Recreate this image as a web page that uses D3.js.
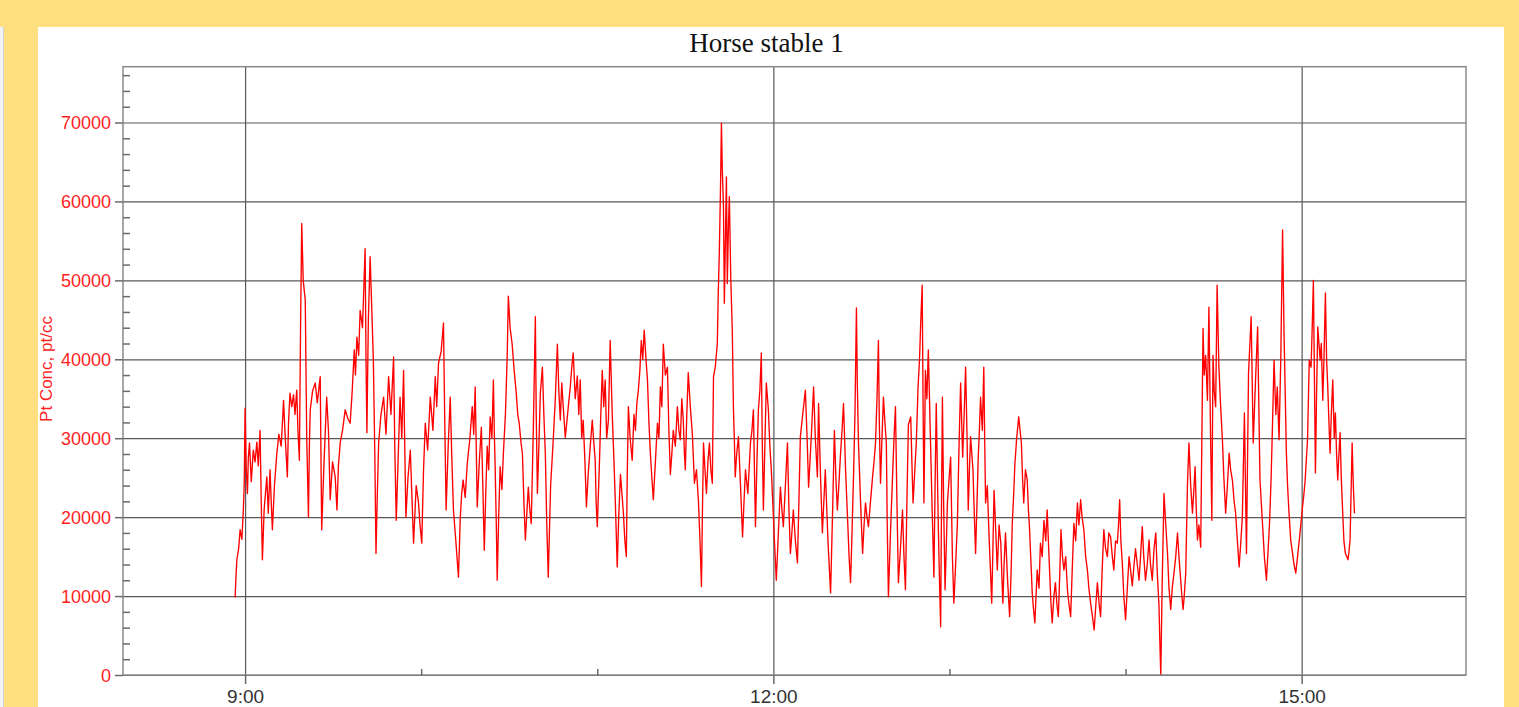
<!DOCTYPE html>
<html lang="en">
<head>
<meta charset="UTF-8">
<title>Horse stable 1</title>
<style>
  body { margin: 0; background: #ffdf80; }
  svg { display: block; }
</style>
<script src="https://d3js.org/d3.v7.min.js"></script>
</head>
<body>
<svg width="1519" height="707"></svg>
<script>
// samples: [minutes after 9:00, concentration in 1000 pt/cc]
const trace0856 = [[-3.4,9.8],[-3.1,12.5],[-2.8,14.6],[-2.2,16],[-1.7,18.4],[-1.1,17.2],[-0.6,20.9],[-0.3,24],[0,33.8],[0.4,26],[0.8,23],[1.1,27.5],[1.5,29.4],[2.1,24.5],[2.8,28.5],[3.4,27],[4,29.5],[4.5,26.5],[5.1,31],[5.5,22],[5.9,14.6],[6.5,21],[7.4,25.1],[7.9,20.5],[8.5,26],[8.9,22],[9.3,18.4],[10,24],[10.8,28],[11.5,30.5],[12.3,29],[12.8,32.5],[13.1,34.8],[13.7,30],[14.4,25.1],[14.8,32],[15.3,35.7],[15.9,34],[16.5,35.5],[17,33],[17.6,36.1],[18,31],[18.5,27.2],[18.9,44],[19.3,57.2],[19.8,50],[20.5,47.5],[21,30],[21.6,20],[21.9,29],[22.2,33.6],[23,36],[23.9,37],[24.6,34.5],[25.2,36.5],[25.6,37.8],[26.1,18.4],[26.9,27],[27.8,35.2],[28.4,31],[29,22.2],[29.8,27],[30.7,25.1],[31.3,20.9],[31.8,26.5],[32.4,29.4],[33.2,31],[34.1,33.6],[35,32.5],[35.8,31.9],[36.5,36],[37.2,41.2],[37.6,38],[38.1,42.8],[38.7,40.5],[39.2,46.2],[40,44],[40.9,54],[41.2,40],[41.5,30.7],[42,45],[42.6,53],[43.2,46],[43.7,39.9],[44.2,28],[44.6,15.4],[45,22],[45.5,29.4],[46.3,33],[47.2,35.2],[48,30.5],[48.9,37.8],[49.7,33],[50.6,40.3],[51,29],[51.5,19.6],[52.2,28],[52.8,35.2],[53.4,30],[54,38.6],[54.4,29],[54.8,20],[55.5,25],[56.3,28.5],[56.9,22],[57.4,16.7],[58.3,24],[59.1,21.8],[59.6,19],[60.2,16.7],[60.8,26],[61.4,31.9],[62.2,28.5],[63.1,35.2],[64,31],[64.8,37.8],[65.3,34],[65.9,39.5],[66.8,41],[67.6,44.6],[68,33],[68.5,20.9],[69.2,29],[69.9,35.2],[70.4,28],[71,20.9],[71.8,17],[72.7,12.4]];

const trace1013 = [[73.3,19.7],[73.8,23],[74.3,24.7],[75,22.5],[75.7,26.8],[76.6,30],[77.4,34],[77.9,30.5],[78.4,36.5],[78.8,28],[79.1,21.3],[79.8,27],[80.5,31.4],[81,24],[81.5,15.8],[82,23],[82.5,29],[83,26],[83.5,32.7],[84.1,30],[84.6,37.4],[84.9,31],[85.2,26.4],[85.6,19],[85.9,12],[86.4,20],[86.9,26.4],[87.5,23.5],[88,28],[88.7,33],[89.3,40.3],[89.7,48],[90.3,44],[91,41.9],[91.7,38.5],[92.4,35.7],[92.9,33],[93.4,31.9],[94,29.5],[94.5,28],[95,22],[95.5,17.1],[96,20.5],[96.5,23.8],[97,21],[97.5,19.2],[98.2,31],[98.9,45.4],[99.2,33],[99.6,23],[100.1,29],[100.6,35.7],[101.3,39],[101.8,33],[102.3,28],[102.8,19],[103.3,12.4],[104.1,24],[105,29.8],[105.7,35],[106.4,41.9],[106.9,36],[107.4,32.3],[107.9,37],[108.4,34],[109.1,30.1],[110,33.5],[110.8,36.5],[111.3,39],[111.8,40.8],[112.5,35],[113.2,37.9],[113.7,33],[114.2,37.4],[114.7,30],[115.2,32.3],[115.8,27],[116.3,21.3],[116.9,25.4],[117.6,29],[118.3,32.3],[118.8,29.5],[119.3,27.2],[119.6,22],[120,18.8],[120.7,26.4],[121.2,33],[121.7,38.6],[122.2,34],[122.7,37.4],[123.2,30],[123.8,32.3],[124.4,42.4],[124.8,37],[125.1,33],[125.7,27],[126.2,21.3],[126.8,13.7],[127.3,20],[127.9,25.4],[128.4,23],[128.9,20.5],[129.4,17],[129.9,15],[130.2,25],[130.6,34],[131.2,30],[131.9,27.2],[132.5,33],[133,31],[133.5,34.5],[134,36.1],[134.5,38.5],[135,42.4],[135.5,40],[136,43.7],[136.6,40],[137.1,37.4],[137.6,32],[138.1,28],[138.6,25],[139.1,22.2],[139.8,27],[140.5,31.9],[141,30],[141.5,36.5],[142,34],[142.5,41.9],[143.2,38],[143.9,39],[144.4,31],[144.9,25.4],[145.4,28],[145.9,31],[146.6,29],[147.3,34],[147.8,31],[148.3,29.8],[148.8,35],[149.3,32.3]];

const trace1130 = [[149.7,28],[150,26],[150.5,33],[151,38.3],[151.7,34],[152.4,30.5],[152.8,27],[153.1,24.3],[153.8,26],[154.5,21.8],[155,17],[155.5,11.2],[155.8,20],[156.2,29.4],[156.7,26],[157.2,23],[157.7,27],[158.2,29.4],[158.7,26],[159.2,24.3],[159.6,37.8],[160.2,39],[160.9,42],[161.2,48],[161.6,53.8],[162,62],[162.3,69.9],[162.6,64],[163,59.3],[163.3,47.1],[163.7,56],[164,63.1],[164.3,49.6],[164.7,57],[165,60.6],[165.5,50],[166,43.7],[166.4,33.6],[166.7,30],[167,25.1],[167.5,28],[168.1,30.2],[168.8,24],[169.5,17.5],[170,22],[170.5,26],[171.3,23],[172.2,29.4],[172.7,31],[173.2,33.6],[173.6,25],[173.9,18.8],[174.4,27],[174.9,33.6],[175.4,36],[175.9,40.8],[176.2,30],[176.6,20.9],[177.1,29],[177.6,37],[178.3,33.6],[178.8,29],[179.3,26],[179.9,21],[180.4,16.7],[181,12],[181.7,18],[182.4,23.8],[182.9,21],[183.4,18.8],[184.1,24],[184.8,29.4],[185.3,21],[185.8,15.4],[186.3,18],[186.8,20.9],[187.5,17],[188.2,14.2],[188.7,22],[189.2,30.2],[190,33],[190.9,36.1],[191.5,30],[192,23.8],[192.9,30],[193.7,36.5],[194.3,30],[195,25.1],[195.4,34.4],[196,26],[196.7,18],[197.2,22],[197.7,26],[198.6,17],[199.5,10.4],[200.2,21],[200.8,31],[201.3,25],[201.8,20.9],[202.3,24],[202.9,28.1],[203.4,31],[203.9,34.4],[204.6,26],[205.3,19.6],[205.8,15],[206.3,11.7],[206.8,18],[207.3,25.1],[207.8,33],[208.3,46.5],[208.6,37],[209,29.4],[209.7,22],[210.4,15.4],[210.9,19],[211.4,21.8],[211.9,20],[212.4,18.8],[213.1,22],[213.8,25.1],[214.3,27],[214.8,29.4],[215.3,35],[215.8,42.4],[216.1,32],[216.5,24.3],[217,30],[217.5,35.2],[218,32],[218.5,29.4],[218.8,19],[219.2,9.9],[219.9,18],[220.6,25.1],[221.1,30],[221.6,34],[222.1,22],[222.6,11.7],[223.3,16],[224,20.9],[224.5,15],[225,10.8],[225.5,22],[226,31.7]];

const trace1346 = [[226.8,32.7],[227.2,27],[227.6,21.8],[228.2,26],[228.7,29.4],[229.3,36.5],[229.8,40],[230.2,44.6],[230.7,49.4],[231,35],[231.3,21.8],[231.8,38.6],[232.3,35],[232.8,41.2],[233.5,30.2],[234.1,21],[234.7,12.4],[235.1,24],[235.5,34.4],[236.2,18.8],[236.6,12],[237,6.1],[237.3,22],[237.6,35.2],[238,22],[238.5,10.8],[238.9,16],[239.3,21.8],[239.9,25],[240.4,27.6],[241,15],[241.5,9.1],[242.1,14],[242.7,19.2],[243.2,28],[243.8,37],[244.5,27.6],[245,33],[245.5,39],[246,30],[246.4,20.9],[246.8,26],[247.2,30.2],[248,26],[248.5,20],[248.9,15.4],[249.4,22],[249.8,27.6],[250.2,31],[250.6,35.2],[251.2,31],[251.7,39],[252,30],[252.3,21.8],[252.9,24],[253.5,17.5],[254,13],[254.4,9.1],[254.8,16],[255.2,23.4],[255.8,18],[256.3,13.3],[256.9,19],[257.5,16.7],[257.9,12],[258.2,9.1],[258.6,14],[259.1,18],[259.8,12],[260.5,7.4],[261,13],[261.4,19.2],[261.9,23],[262.3,26.8],[262.9,30],[263.6,32.7],[264.5,29.4],[264.9,25],[265.3,21.8],[265.9,26],[266.5,24.7],[266.9,21],[267.3,18.4],[267.8,14],[268.2,10.4],[268.6,8.5],[269.1,6.6],[269.5,10],[269.9,13.3],[270.5,11],[271,16.7],[271.6,15],[272.2,19.6],[272.8,17],[273.3,20.9],[273.7,17],[274.1,13.3],[274.6,9],[275,6.6],[275.6,10],[276.1,11.7],[276.6,9],[277.1,7.4],[277.6,13],[278,18.4],[278.5,15],[279,13.3],[279.6,15],[280.2,10.8],[280.7,9],[281.3,7.4],[281.8,13],[282.4,19.2],[283,17],[283.6,21.8],[284.1,19],[284.7,22.2],[285.2,20],[285.8,18.4],[286.4,15],[287,13.3],[287.5,11],[288.1,9.1],[288.7,7.5],[289.3,5.7],[289.9,9],[290.4,11.7],[291,9],[291.5,7.4],[292,13],[292.6,18.4],[293.2,16],[293.8,15],[294.3,18],[294.9,17.5],[295.5,15],[296,13.3],[296.6,17],[297.2,16.7],[297.6,19],[298,22.2],[298.4,17],[298.9,14.2],[299.4,10],[300,7],[300.6,11],[301.2,15],[301.8,13],[302.3,11.3],[302.9,14],[303.4,16]];

const trace1404 = [[304,14],[304.6,12],[305.1,15],[305.7,18.8],[306.2,15],[306.8,12],[307.4,14],[308,17.1],[308.5,14],[309.1,12],[309.7,16],[310.3,18],[310.8,13],[311.4,8.7],[311.7,4],[312,0],[312.5,12],[313.1,23],[313.7,19],[314.3,15.4],[314.8,11],[315.4,8.3],[315.9,11],[316.5,12.9],[317.1,15],[317.7,18],[318.2,15],[318.8,12],[319.2,10],[319.6,8.3],[320,10],[320.5,12.9],[321.1,24.3],[321.6,29.4],[322.2,24],[322.8,20.5],[323.2,23],[323.7,26.4],[324.1,21],[324.5,17.1],[325,19],[325.6,16.2],[326,30],[326.4,43.9],[326.8,38],[327.3,40.5],[327.9,34.8],[328.4,46.6],[328.9,32],[329.4,19.6],[329.8,40.5],[330.2,36],[330.7,34],[331.2,49.4],[331.8,39],[332.4,34],[333,29.8],[333.5,25],[334.1,20.5],[334.7,24],[335.3,28.1],[335.8,26],[336.4,24.7],[337,22],[337.5,20.5],[338.1,17],[338.7,13.7],[339.3,17],[339.8,20.1],[340.5,33.2],[341.2,15.4],[341.9,38.3],[342.8,45.4],[343.5,29.4],[344.2,36.5],[345,44.1],[345.8,24.7],[346.6,19.6],[347.3,15],[348,12],[348.6,16],[349.1,19.6],[349.6,25],[350,30.7],[350.6,39.9],[351.2,33],[351.7,36.5],[352.3,29.8],[352.9,40.3],[353.5,56.4],[354,43.3],[354.8,28.1],[355.2,24],[355.7,20.5],[356.3,17],[356.9,15.4],[357.4,14],[358,12.9],[358.6,15],[359.2,17.1],[359.7,19],[360.3,21.3],[360.8,23],[361.2,24.7],[362,29.8],[362.6,39.9],[363.2,39],[363.6,44],[364,50],[364.7,25.6],[365.1,36],[365.5,44.1],[366.3,39.9],[366.7,42],[367.2,34.8],[367.6,40],[368.1,48.4],[368.5,40],[368.9,36.5],[369.3,32],[369.7,28.1],[370.1,33],[370.6,37.4],[371.1,30],[371.5,33.2],[371.9,28],[372.3,24.7],[372.7,28],[373.1,30.7],[373.5,25],[374,20.5],[374.4,17],[374.9,15.4],[375.4,15],[375.8,14.6],[376.1,15.5],[376.5,17.1],[377.2,29.4],[377.6,24],[378,20.5]];

const samples = trace0856.concat(trace1013, trace1130, trace1346, trace1404);

const yMajor = [0, 10, 20, 30, 40, 50, 60, 70];     // thousand pt/cc
const xMajor = [0, 180, 360];                      // 9:00, 12:00, 15:00
const xMinor = [60, 120, 240, 300];                // 10, 11, 13, 14 o'clock
const chartTitle = "Horse stable 1";
const yTitle = "Pt Conc, pt/cc";

const svg = d3.select("svg");
const W = 1519, H = 707;
const pLeft = 123, pRight = 1466, pTop = 66.7, pBottom = 675;

svg.append("rect").attr("width", W).attr("height", H).attr("fill", "#ffdf80");
svg.append("rect").attr("x", 0).attr("y", 27).attr("width", 3).attr("height", H - 27).attr("fill", "#f3f3f3");
svg.append("line").attr("x1", 3.5).attr("x2", 3.5).attr("y1", 27).attr("y2", H).attr("stroke", "#d2d2d2");
svg.append("rect").attr("x", 38).attr("y", 27).attr("width", 1466).attr("height", H - 27).attr("fill", "#fff");

const x = d3.scaleLinear().domain([-41.6, 416]).range([pLeft, pRight]);
const y = d3.scaleLinear().domain([0, 77.07]).range([pBottom, pTop]);

const hm = m => `${Math.floor(9 + m / 60)}:${String(m % 60).padStart(2, "0")}`;

// grid
svg.append("g")
  .attr("transform", `translate(${pLeft},0)`)
  .call(d3.axisLeft(y).tickValues(yMajor).tickSize(-(pRight - pLeft)).tickFormat(""))
  .call(g => g.select(".domain").remove())
  .call(g => g.selectAll("line").attr("stroke", "#585858").attr("stroke-width", 1.2));

svg.append("g")
  .attr("transform", `translate(0,${pBottom})`)
  .call(d3.axisBottom(x).tickValues(xMajor).tickSize(-(pBottom - pTop)).tickFormat(""))
  .call(g => g.select(".domain").remove())
  .call(g => g.selectAll("line").attr("stroke", "#585858").attr("stroke-width", 1.2));

// trace
svg.append("path")
  .datum(samples)
  .attr("fill", "none")
  .attr("stroke", "#ff0000")
  .attr("stroke-width", 1.35)
  .attr("stroke-linejoin", "round")
  .attr("d", d3.line().x(d => x(d[0])).y(d => y(d[1])));

// frame
svg.append("rect")
  .attr("x", pLeft).attr("y", pTop)
  .attr("width", pRight - pLeft).attr("height", pBottom - pTop)
  .attr("fill", "none").attr("stroke", "#8a8a8a").attr("stroke-width", 1.5);

// y axis: major ticks out, minor ticks in
svg.append("g")
  .attr("transform", `translate(${pLeft},0)`)
  .call(d3.axisLeft(y).tickValues(yMajor).tickSize(8).tickPadding(4).tickFormat(d => d * 1000))
  .call(g => g.select(".domain").remove())
  .call(g => g.selectAll("line").attr("stroke", "#6a6a6a").attr("stroke-width", 1.5))
  .call(g => g.selectAll("text").attr("fill", "#ff1f1f").attr("dy", "0.34em")
    .style("font", "18px 'Liberation Sans', Arial, sans-serif"));

svg.append("g")
  .attr("transform", `translate(${pLeft},0)`)
  .call(d3.axisRight(y).tickValues(d3.range(2, 77, 2).filter(v => v % 10)).tickSize(7).tickFormat(""))
  .call(g => g.select(".domain").remove())
  .call(g => g.selectAll("line").attr("stroke", "#6a6a6a").attr("stroke-width", 1.5));

// x axis
svg.append("g")
  .attr("transform", `translate(0,${pBottom})`)
  .call(d3.axisBottom(x).tickValues(xMajor).tickSize(9).tickPadding(6).tickFormat(hm))
  .call(g => g.select(".domain").remove())
  .call(g => g.selectAll("line").attr("stroke", "#6a6a6a").attr("stroke-width", 1.5))
  .call(g => g.selectAll("text").attr("fill", "#333")
    .style("font", "19px 'Liberation Sans', Arial, sans-serif"));

svg.append("g")
  .attr("transform", `translate(0,${pBottom})`)
  .call(d3.axisTop(x).tickValues(xMinor).tickSize(6).tickFormat(""))
  .call(g => g.select(".domain").remove())
  .call(g => g.selectAll("line").attr("stroke", "#6a6a6a").attr("stroke-width", 1.5));

// titles
svg.append("text")
  .attr("x", 766.5).attr("y", 52)
  .attr("text-anchor", "middle")
  .attr("fill", "#111")
  .style("font", "27px 'Liberation Serif', 'Times New Roman', serif")
  .text(chartTitle);

svg.append("text")
  .attr("transform", `translate(52,369) rotate(-90)`)
  .attr("text-anchor", "middle")
  .attr("fill", "#ff1f1f")
  .style("font", "17px 'Liberation Sans', Arial, sans-serif")
  .text(yTitle);
</script>
</body>
</html>
